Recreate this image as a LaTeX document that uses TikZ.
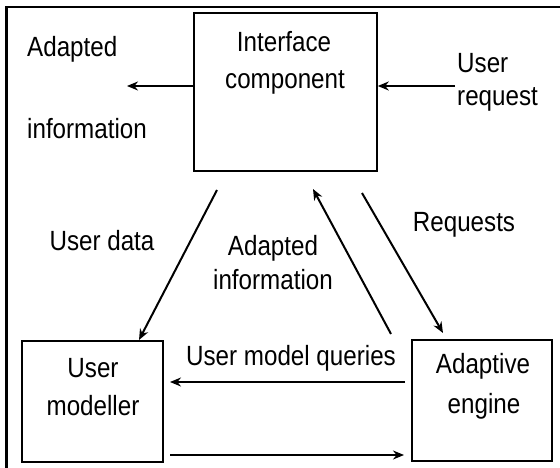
\documentclass[tikz,border=0pt]{standalone}
\usepackage{fontspec}
\setmainfont{Liberation Sans}[FakeStretch=0.87]
\usetikzlibrary{arrows.meta}
\begin{document}
\begin{tikzpicture}[x=1pt,y=-1pt,
  box/.style={draw,line width=1.6pt,inner sep=0pt},
  txt/.style={font=\fontsize{27.8}{32}\selectfont,inner sep=0pt,anchor=base},
  txtl/.style={txt,anchor=base west},
  arr/.style={line width=2pt,-{Stealth[length=11pt,width=9pt]}}]
\useasboundingbox (0,0) rectangle (560,468);
\draw[line width=2.2pt] (6.5,468) -- (6.5,7) -- (560,7);
% boxes
\node[box,minimum width=183pt,minimum height=158pt] (ifc) at (285.5,92) {};
\node[box,minimum width=141pt,minimum height=121pt] (um) at (92.5,401.5) {};
\node[box,minimum width=140pt,minimum height=121pt] (ae) at (482,400.5) {};
% box texts
\node[txt] (ifc1) at (284,52) {Interface};
\node[txt] (ifc2) at (285,89) {component};
\node[txt] (um1) at (93,377) {User};
\node[txt] (um2) at (93,415) {modeller};
\node[txt] (ae1) at (483,373) {Adaptive};
\node[txt] (ae2) at (484,413) {engine};
% outer labels
\node[txtl] (ai1) at (27,57) {Adapted};
\node[txtl] (ai2) at (27,139) {information};
\node[txtl] (ur1) at (457,73) {User};
\node[txtl] (ur2) at (457,106) {request};
\node[txt] (ud) at (102,251) {User data};
\node[txt] (ad1) at (273,255) {Adapted};
\node[txt] (ad2) at (273,289) {information};
\node[txt] (rq) at (464,232) {Requests};
\node[txt] (umq) at (291,365) {User model queries};
% coordinates
\coordinate (aiend) at (127,86);
\coordinate (urstart) at (455,86);
\coordinate (uds) at (217,190);
\coordinate (ude) at (139,340);
\coordinate (ads) at (391,334);
\coordinate (ade) at (313,189);
\coordinate (rqs) at (362,193);
\coordinate (rqe) at (443,333);
\coordinate (umqs) at (405,382);
\coordinate (umqe) at (170,382);
\coordinate (bs) at (170,455);
\coordinate (be) at (404,455);
% arrows
\draw[arr] (ifc.west |- aiend) -- (aiend);
\draw[arr] (urstart) -- (ifc.east |- urstart);
\draw[arr] (uds) -- (ude);
\draw[arr] (ads) -- (ade);
\draw[arr] (rqs) -- (rqe);
\draw[arr] (umqs) -- (umqe);
\draw[arr] (bs) -- (be);
\end{tikzpicture}
\end{document}
